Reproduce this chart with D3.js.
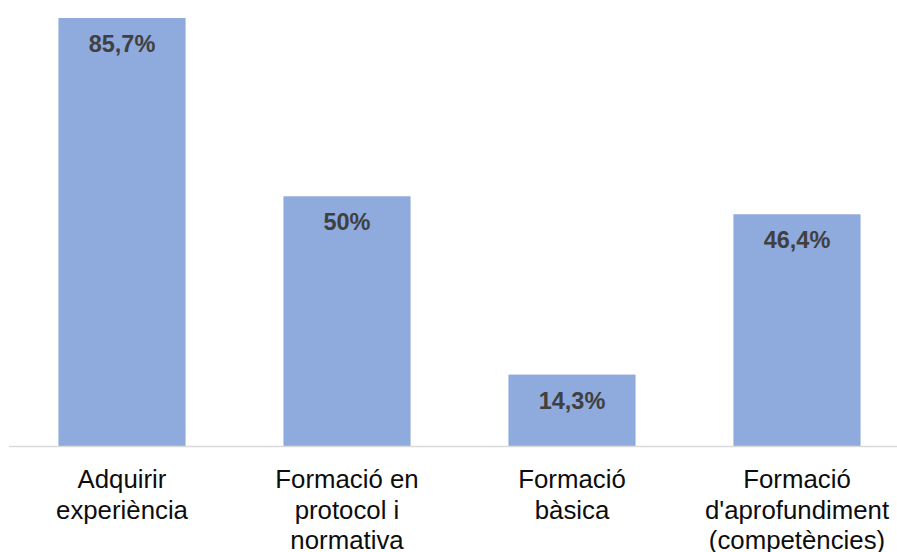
<!DOCTYPE html>
<html>
<head>
<meta charset="utf-8">
<script src="https://d3js.org/d3.v7.min.js"></script>
<style>
  body { margin: 0; background: #fff; }
  svg { display: block; }
</style>
</head>
<body>
<script>

// chart values
var categories = [
  ["Adquirir", "experiència"],
  ["Formació en", "protocol i", "normativa"],
  ["Formació", "bàsica"],
  ["Formació", "d'aprofundiment", "(competències)"]
];
var values = [85.7, 50, 14.3, 46.4];
var valueLabels = ["85,7%", "50%", "14,3%", "46,4%"];

var width = 897, height = 552;
var baseline = 446;

var svg = d3.select("body").append("svg")
    .attr("width", width)
    .attr("height", height);

var x = d3.scaleBand()
    .domain(d3.range(values.length))
    .range([9.5, 909.5])
    .paddingInner(0.435)
    .paddingOuter(0.2175);

var y = d3.scaleLinear()
    .domain([0, 85.7])
    .range([baseline, 18]);

// bars
svg.selectAll("rect.bar")
    .data(values)
  .enter().append("rect")
    .attr("class", "bar")
    .attr("x", function(d, i) { return x(i); })
    .attr("y", function(d) { return y(d); })
    .attr("width", x.bandwidth())
    .attr("height", function(d) { return baseline - y(d); })
    .attr("fill", "#8faadc");

// axis line
svg.append("line")
    .attr("x1", 9)
    .attr("x2", width)
    .attr("y1", baseline + 0.5)
    .attr("y2", baseline + 0.5)
    .attr("stroke", "#d9d9d9")
    .attr("stroke-width", 1.5);

// value labels
svg.selectAll("text.val")
    .data(values)
  .enter().append("text")
    .attr("class", "val")
    .attr("x", function(d, i) { return x(i) + x.bandwidth() / 2; })
    .attr("y", function(d) { return y(d) + 34; })
    .attr("text-anchor", "middle")
    .style("font-family", "'Liberation Sans', Arial, sans-serif")
    .style("font-weight", "bold")
    .style("font-size", "23.5px")
    .style("fill", "#404040")
    .text(function(d, i) { return valueLabels[i]; });

// category labels
var cat = svg.selectAll("text.cat")
    .data(categories)
  .enter().append("text")
    .attr("class", "cat")
    .attr("text-anchor", "middle")
    .style("font-family", "'Liberation Sans', Arial, sans-serif")
    .style("font-size", "25.8px")
    .style("fill", "#0d0d0d");

cat.selectAll("tspan")
    .data(function(d, i) { return d.map(function(t) { return {t: t, i: i}; }); })
  .enter().append("tspan")
    .attr("x", function(d) { return x(d.i) + x.bandwidth() / 2; })
    .attr("y", function(d, j) { return 488 + j * 30.5; })
    .text(function(d) { return d.t; });

</script>
</body>
</html>
